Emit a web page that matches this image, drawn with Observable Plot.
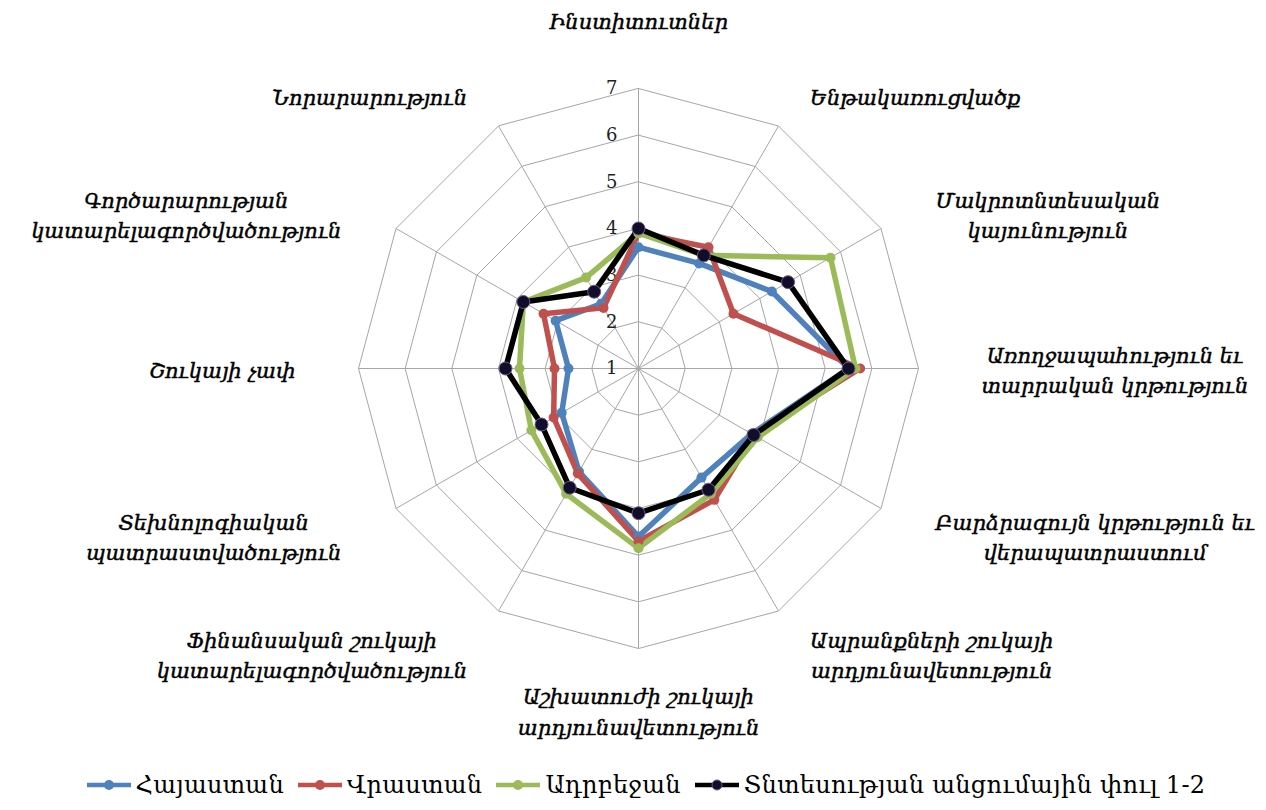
<!DOCTYPE html>
<html><head><meta charset="utf-8">
<script src="https://cdn.jsdelivr.net/npm/d3@7"></script>
<script src="https://cdn.jsdelivr.net/npm/@observablehq/plot@0.6"></script>
<style>
body{margin:0;background:#fff;}
#chart svg{display:block;}
#legend{height:50px;display:flex;justify-content:center;align-items:center;gap:14px;
  font-family:"DejaVu Serif";font-size:24px;color:#000;padding-left:26px;box-sizing:border-box;letter-spacing:0.3px;}
#legend .item{display:flex;align-items:center;gap:5px;}
</style></head><body><div id="chart"></div><div id="legend"></div>
<script>
const categories = [
 "Ինստիտուտներ",
 "Ենթակառուցվածք",
 "Մակրոտնտեսական\nկայունություն",
 "Առողջապահություն եւ\nտարրական կրթություն",
 "Բարձրագույն կրթություն եւ\nվերապատրաստում",
 "Ապրանքների շուկայի\nարդյունավետություն",
 "Աշխատուժի շուկայի\nարդյունավետություն",
 "Ֆինանսական շուկայի\nկատարելագործվածություն",
 "Տեխնոլոգիական\nպատրաստվածություն",
 "Շուկայի չափ",
 "Գործարարության\nկատարելագործվածություն",
 "Նորարարություն"
];
const armenia    = [3.6, 3.6, 4.3, 5.5, 3.8, 3.7, 4.6, 3.55, 2.9, 2.5, 3.05, 2.6];
const georgia    = [3.9, 4.0, 3.35, 5.75, 3.85, 4.25, 4.7, 3.6, 3.1, 2.8, 3.35, 2.5];
const azerbaijan = [3.9, 3.8, 5.75, 5.65, 3.95, 4.1, 4.85, 4.1, 3.65, 3.55, 3.85, 3.25];
const stage12    = [4.0, 3.8, 4.7, 5.5, 3.85, 4.0, 4.1, 3.95, 3.4, 3.85, 3.85, 2.9];
const seriesNames = ["Հայաստան", "Վրաստան", "Ադրբեջան", "Տնտեսության անցումային փուլ 1-2"];
const tickValues = [1, 2, 3, 4, 5, 6, 7];

const seriesValues = [armenia, georgia, azerbaijan, stage12];
const colors = ["#4F81BD", "#C0504D", "#9BBB59", "#000000"];

const W = 1266, H = 760, cx = 638, cy = 368, R = 280;
const vMin = 1, vMax = 7;
const K = R / (vMax - vMin);
const n = categories.length;
const ang = i => i * 2 * Math.PI / n;
const px = (v, i) => (v - vMin) * Math.sin(ang(i));
const py = (v, i) => (v - vMin) * Math.cos(ang(i));

const rows = [];
seriesValues.forEach((vals, s) => vals.forEach((v, i) =>
  rows.push({series: seriesNames[s], s, i, v, x: px(v, i), y: py(v, i)})));

const grid = [];
tickValues.slice(1).forEach(t => categories.forEach((c, i) =>
  grid.push({t, x: px(t, i), y: py(t, i)})));
const spokes = categories.map((c, i) => ({x2: px(vMax, i), y2: py(vMax, i)}));

const labelFont = {fontFamily: "DejaVu Serif", fontStyle: "italic", fontSize: 21, stroke: "#000", strokeWidth: 0.45};
const cv = document.createElement("canvas").getContext("2d");
cv.font = "italic 21px 'DejaVu Serif'";
const halfW = s => Math.max(...s.split("\n").map(l => cv.measureText(l).width)) / 2;

const labels = categories.map((c, i) => {
  const s = Math.sin(ang(i)), co = Math.cos(ang(i));
  const side = Math.abs(s) < 1e-6 ? 0 : Math.sign(s);
  let xo, yo;
  if (side === 0) { xo = 0; yo = co * (R + (co > 0 ? 60 : 34)); }
  else { xo = s * (R + 63) + side * halfW(c); yo = co * (R + 42) - (Math.abs(co) > 0.01 ? 6 : 0); }
  return {text: c, i, side, co, x: xo / K, y: yo / K};
});

const chart = Plot.plot({
  width: W, height: H, margin: 0,
  x: {domain: [-cx / K, (W - cx) / K], axis: null},
  y: {domain: [-(H - cy) / K, cy / K], axis: null},
  marks: [
    Plot.line(grid, {x: "x", y: "y", z: "t", curve: "linear-closed", stroke: "#a6a6a6", strokeWidth: 1}),
    Plot.link(spokes, {x1: 0, y1: 0, x2: "x2", y2: "y2", stroke: "#a6a6a6", strokeWidth: 1}),
    Plot.text(tickValues, {x: 0, y: d => d - vMin, text: d => String(d), dx: -21, textAnchor: "end",
      fontFamily: "DejaVu Serif", fontSize: 18, fill: "#222"}),
    ...seriesNames.map((name, s) => Plot.line(rows.filter(r => r.s === s),
      {x: "x", y: "y", curve: "linear-closed", stroke: colors[s], strokeWidth: 5.5, strokeLinejoin: "round"})),
    ...seriesNames.map((name, s) => Plot.dot(rows.filter(r => r.s === s),
      {x: "x", y: "y", r: s === 3 ? 6.5 : 5, fill: s === 3 ? "#120e2a" : colors[s],
       stroke: s === 3 ? "#6c5a8c" : "none", strokeWidth: 1})),
    Plot.text(labels.filter(d => d.side !== 0 ), {x: "x", y: "y", text: "text", textAnchor: "middle",
      lineAnchor: "middle", lineHeight: 1.45, ...labelFont, fill: "#000"}),
    Plot.text(labels.filter(d => d.side === 0 && d.co > 0), {x: "x", y: "y", text: "text", textAnchor: "middle",
      lineAnchor: "bottom", lineHeight: 1.45, ...labelFont, fill: "#000"}),
    Plot.text(labels.filter(d => d.side === 0 && d.co < 0), {x: "x", y: "y", text: "text", textAnchor: "middle",
      lineAnchor: "top", lineHeight: 1.45, ...labelFont, fill: "#000"})
  ]
});
document.getElementById("chart").appendChild(chart);

const legend = document.getElementById("legend");
seriesNames.forEach((name, s) => {
  const item = document.createElement("div");
  item.className = "item";
  const mk = s === 3 ? `fill="#120e2a" stroke="#6c5a8c"` : `fill="${colors[s]}"`;
  item.innerHTML = `<svg width="44" height="14"><line x1="0" y1="7" x2="44" y2="7" stroke="${colors[s]}" stroke-width="4.5"/>` +
    `<circle cx="22" cy="7" r="5" ${mk}/></svg><span>${name}</span>`;
  legend.appendChild(item);
});
</script></body></html>
